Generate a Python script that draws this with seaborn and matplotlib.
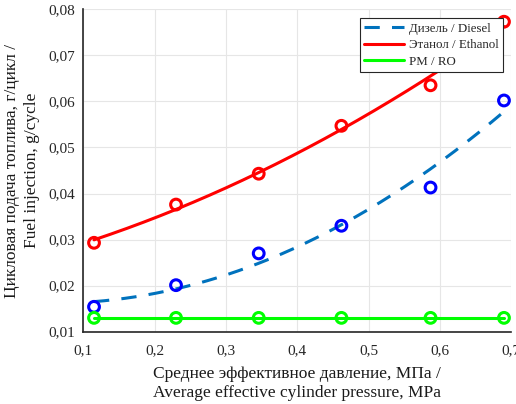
import numpy as np
import pandas as pd
import matplotlib
matplotlib.use("Agg")
import matplotlib.pyplot as plt
import seaborn as sns

# data
pressure = [0.115, 0.23, 0.346, 0.462, 0.587, 0.69]
diesel = [0.0154, 0.0201, 0.0270, 0.0330, 0.0413, 0.0602]
ethanol = [0.0293, 0.0376, 0.0443, 0.0547, 0.0635, 0.0773]
ro = [0.0130, 0.0130, 0.0130, 0.0130, 0.0130, 0.0130]

x_ticks = [0.1, 0.2, 0.3, 0.4, 0.5, 0.6, 0.7]
x_ticklabels = ["0,1", "0,2", "0,3", "0,4", "0,5", "0,6", "0,7"]
y_ticks = [0.01, 0.02, 0.03, 0.04, 0.05, 0.06, 0.07, 0.08]
y_ticklabels = ["0,01", "0,02", "0,03", "0,04", "0,05", "0,06", "0,07", "0,08"]

labels = ["Дизель / Diesel", "Этанол / Ethanol", "РМ / RO"]
xlabel = "Среднее эффективное давление, МПа /\nAverage effective cylinder pressure, MPa"
ylabel = "Цикловая подача топлива, г/цикл /\nFuel injection, g/cycle"

sns.set_theme(style="whitegrid")
plt.rcParams["font.family"] = ["Liberation Serif", "DejaVu Serif"]

fig = plt.figure(figsize=(5.16, 4.04), dpi=100)
ax = fig.add_axes([0.1615, 0.179, 0.829, 0.798])

# fitted curves (quadratic fit of the measured points)
xs = np.linspace(min(pressure), max(pressure), 200)
cd = np.polyfit(pressure, diesel, 2)
ce = np.polyfit(pressure, ethanol, 2)
fit = pd.DataFrame({"x": xs, "diesel": np.polyval(cd, xs), "ethanol": np.polyval(ce, xs)})
pts = pd.DataFrame({"x": pressure, "diesel": diesel, "ethanol": ethanol, "ro": ro})

sns.lineplot(data=fit, x="x", y="diesel", ax=ax, color="#0072BD", lw=2.2,
             linestyle=(0, (5, 4)), label=labels[0])
sns.lineplot(data=fit, x="x", y="ethanol", ax=ax, color="#FF0000", lw=2.2, label=labels[1])
sns.lineplot(data=pts, x="x", y="ro", ax=ax, color="#00FF00", lw=2.2, label=labels[2])

sns.scatterplot(data=pts, x="x", y="diesel", ax=ax, marker="o", s=60,
                facecolors="none", edgecolor="#0000FF", linewidth=2.2, zorder=5)
sns.scatterplot(data=pts, x="x", y="ethanol", ax=ax, marker="o", s=60,
                facecolors="none", edgecolor="#FF0000", linewidth=2.2, zorder=5)
sns.scatterplot(data=pts, x="x", y="ro", ax=ax, marker="o", s=60,
                facecolors="none", edgecolor="#00FF00", linewidth=2.2, zorder=5)

ax.set_xlim(0.1, 0.7)
ax.set_ylim(0.01, 0.08)
ax.set_xticks(x_ticks)
ax.set_xticklabels(x_ticklabels)
ax.set_yticks(y_ticks)
ax.set_yticklabels(y_ticklabels)
ax.tick_params(axis="both", direction="in", length=4, width=1, colors="#262626",
               labelsize=11, labelcolor="#262626")
ax.tick_params(axis="x", pad=9)
ax.tick_params(axis="y", pad=6)
ax.grid(True, color="#E6E6E6", lw=0.8)
ax.set_facecolor("white")
for s in ["top", "right"]:
    ax.spines[s].set_visible(False)
for s in ["left", "bottom"]:
    ax.spines[s].set_color("#262626")
    ax.spines[s].set_linewidth(1.2)

ax.set_xlabel(xlabel, fontsize=12.5, color="#1a1a1a", labelpad=6, linespacing=1.3)
ax.set_ylabel(ylabel, fontsize=12.5, color="#1a1a1a", labelpad=6, linespacing=1.3)

leg = ax.legend(loc="upper right", bbox_to_anchor=(0.981, 0.973), fontsize=9.3,
                frameon=True, fancybox=False, framealpha=1, edgecolor="#262626",
                handlelength=3.1, borderpad=0.35, labelspacing=0.35, handletextpad=0.35,
                borderaxespad=0)
leg.get_frame().set_linewidth(0.8)

fig.savefig("out.png", dpi=100)
